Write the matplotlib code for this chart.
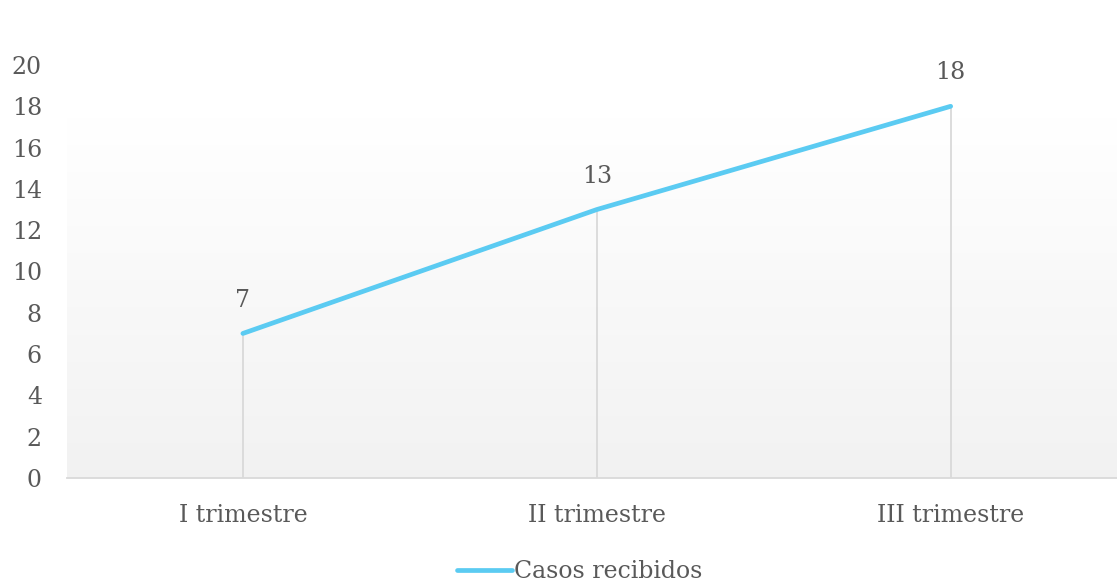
import matplotlib
matplotlib.use("Agg")
import matplotlib.pyplot as plt
import numpy as np

categories = ["I trimestre", "II trimestre", "III trimestre"]
casos = [7, 13, 18]
y_ticks = [0, 2, 4, 6, 8, 10, 12, 14, 16, 18, 20]
series_name = "Casos recibidos"

plt.rcParams['font.family'] = ['DejaVu Serif']
text_color = "#595959"
line_color = "#5BCBF2"
FS = 17

W, H = 1117, 588
fig = plt.figure(figsize=(W/100, H/100), dpi=100)
ax = fig.add_axes([67/W, (H-478)/H, (1117-67)/W, (478-65)/H])

x = np.arange(len(categories))
ax.set_xlim(-0.497, 2.47)
ax.set_ylim(0, 20)

# gradient background
grad = np.linspace(0.948, 1.0, 256).reshape(-1, 1)
rgb = np.dstack([grad, grad, grad])
ax.imshow(rgb, extent=[-0.497, 2.47, 0, 17.45], origin="lower", aspect="auto", zorder=0)

# drop lines
for xi, v in zip(x, casos):
    ax.plot([xi, xi], [0, v], color="#d9d9d9", lw=1.3, zorder=1)

ln, = ax.plot(x, casos, color=line_color, lw=3.4, solid_capstyle="round", zorder=3, label=series_name)

for xi, v in zip(x, casos):
    ax.annotate(str(v), (xi, v), xytext=(0, 24), textcoords="offset points",
                ha="center", va="center", fontsize=FS, color=text_color)

for s in ["top", "right", "left"]:
    ax.spines[s].set_visible(False)
ax.spines["bottom"].set_color("#d9d9d9")
ax.spines["bottom"].set_linewidth(1.3)

ax.set_yticks(y_ticks)
ax.set_yticklabels([str(t) for t in y_ticks], fontsize=FS, color=text_color)
ax.set_xticks(x)
ax.set_xticklabels(categories, fontsize=FS, color=text_color)
ax.tick_params(axis="y", length=0, pad=18)
ax.tick_params(axis="x", length=0, pad=19)

leg = fig.legend(handles=[ln], loc="center", bbox_to_anchor=(580/W, 1 - 572/H),
                 frameon=False, fontsize=FS, handlelength=2.3, handletextpad=0.1)
for t in leg.get_texts():
    t.set_color(text_color)

fig.savefig("out.png", dpi=100)
